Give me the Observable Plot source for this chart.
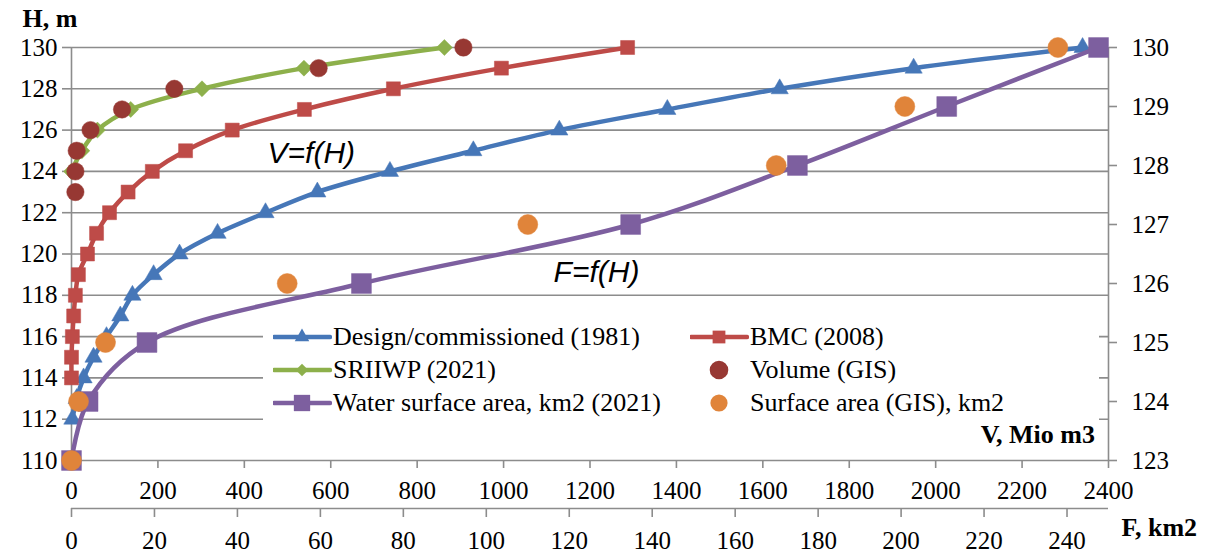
<!DOCTYPE html>
<html>
<head>
<meta charset="utf-8">
<script src="https://cdn.jsdelivr.net/npm/d3@7"></script>
<script src="https://cdn.jsdelivr.net/npm/@observablehq/plot@0.6"></script>
<style>
  body { margin: 0; background: #fff; }
  #wrap { position: relative; width: 1206px; height: 553px; overflow: hidden; background: #fff; }
  #legend { position: absolute; left: 263px; top: 318px; width: 836px; height: 134px; background: #fff;
            font-family: "Liberation Serif", "Times New Roman", serif; font-size: 26px; color: #000; }
  .item { position: absolute; display: flex; align-items: center; height: 30px; white-space: nowrap; }
  .item svg { display: block; }
  #vtitle { position: absolute; right: 4px; top: 104px; font-weight: bold; line-height: 26px; }
</style>
</head>
<body>
<div id="wrap"><div id="legend"></div></div>
<script>
// ---- Primary axes: V (Mio m3) vs H (m) ----
const designH = [112,113,114,115,116,117,118,119,120,121,122,123,124,125,126,127,128,129,130];
const designV = [2,12,28,51,81,113,141,190,250,338,449,569,737,930,1129,1379,1639,1949,2340];

const bmcH = [114,115,116,117,118,119,120,121,122,123,124,125,126,127,128,129,130];
const bmcV = [0,0,2,5,9,16,37,58,88,131,187,264,372,539,745,995,1287];

const sriiwpH = [124,125,126,127,128,129,130];
const sriiwpV = [0,24,60,137,302,538,863];

const gisVolH = [123,124,125,126,127,128,129,130];
const gisVolV = [9,9,12,44,117,238,572,907];

// ---- Secondary axes: F (km2) vs H (right axis, m) ----
const waterH = [123,124,125,126,127,128,129,130];
const waterF = [0,4,18.2,69.9,134.8,175,211,247.6];

const gisAreaH = [123,124,125,126,127,128,129,130];
const gisAreaF = [0,1.7,8.2,52,110,169.9,200.9,237.8];

// ---- tick labels ----
const hTicks = [110,112,114,116,118,120,122,124,126,128,130];
const rTicks = [123,124,125,126,127,128,129,130];
const vTicks = [0,200,400,600,800,1000,1200,1400,1600,1800,2000,2200,2400];
const fTicks = [0,20,40,60,80,100,120,140,160,180,200,220,240];

// axis ranges used to relate secondary scales to primary ones
const vMax = 2400, fMax = 250;
const hMin = 110, hMax = 130, rMin = 123, rMax = 130;
const fToV = f => f * vMax / fMax;
const vToF = v => v * fMax / vMax;
const rToH = r => hMin + (r - rMin) * (hMax - hMin) / (rMax - rMin);
const hToR = h => rMin + (h - hMin) * (rMax - rMin) / (hMax - hMin);

const annotations = [
  {text: "V=f(H)", v: 555, h: 124.85},
  {text: "F=f(H)", v: 1215, h: 119.1}
];

const series = [
  {name: "Design/commissioned (1981)", color: "#4677B8", symbol: "triangle", r: 6.4, lr: 5.4, line: true,
   data: designH.map((h, i) => ({x: designV[i], y: h})), col: 0, row: 0},
  {name: "BMC (2008)", color: "#BE4B48", symbol: "square", r: 7.9, lr: 7.2, line: true,
   data: bmcH.map((h, i) => ({x: bmcV[i], y: h})), col: 1, row: 0},
  {name: "SRIIWP (2021)", color: "#8DB04B", symbol: "diamond2", r: 7.2, lr: 5.6, line: true,
   data: sriiwpH.map((h, i) => ({x: sriiwpV[i], y: h})), col: 0, row: 1},
  {name: "Volume (GIS)", color: "#973833", symbol: "circle", r: 8.7, lr: 9.3, line: false,
   data: gisVolH.map((h, i) => ({x: gisVolV[i], y: h})), col: 1, row: 1},
  {name: "Water surface area, km2 (2021)", color: "#7D5F9F", symbol: "square", r: 11.2, lr: 9.2, line: true,
   data: waterH.map((h, i) => ({x: fToV(waterF[i]), y: rToH(h)})), col: 0, row: 2},
  {name: "Surface area (GIS), km2", color: "#E0843A", symbol: "circle", r: 10, lr: 8.6, line: false,
   data: gisAreaH.map((h, i) => ({x: fToV(gisAreaF[i]), y: rToH(h)})), col: 1, row: 2}
];

const gray = "#8c8c8c";
const serif = "Liberation Serif";
const axisFont = {fontFamily: serif, fontSize: 25, fill: "#000", stroke: gray, strokeWidth: 1.6, label: null};
const seriesMarks = series.flatMap(s => [
  s.line ? Plot.line(s.data, {x: "x", y: "y", stroke: s.color, strokeWidth: 4.5, curve: "catmull-rom"}) : null,
  Plot.dot(s.data, {x: "x", y: "y", fill: s.color, stroke: s.color, strokeWidth: 0.5, symbol: () => s.symbol, r: s.r})
].filter(Boolean));

const chart = Plot.plot({
  width: 1206,
  height: 553,
  marginLeft: 71,
  marginRight: 98,
  marginTop: 47,
  marginBottom: 93,
  x: {domain: [0, vMax], label: null},
  y: {domain: [hMin, hMax], label: null},
  symbol: {type: "identity"},
  style: {fontFamily: serif, fontSize: "25px", color: "#000", background: "#fff"},
  marks: [
    Plot.gridY(hTicks, {stroke: gray, strokeOpacity: 1, strokeWidth: 1.6}),
    Plot.ruleX([0, vMax], {stroke: gray, strokeWidth: 1.6}),
    Plot.axisY(hTicks, {...axisFont, anchor: "left", tickSize: 9, tickPadding: 5, tickFormat: d => String(d)}),
    Plot.axisY(rTicks.map(rToH), {...axisFont, anchor: "right", tickSize: 8, tickPadding: 15, tickFormat: d => String(Math.round(hToR(d)))}),
    Plot.axisX(vTicks, {...axisFont, anchor: "bottom", tickSize: 8, tickPadding: 13, tickFormat: d => String(d)}),
    Plot.ruleY([hMin], {dy: 48, stroke: gray, strokeWidth: 1.6}),
    Plot.axisX(fTicks.map(fToV), {...axisFont, anchor: "bottom", dy: 48, tickSize: 9, tickPadding: 14, tickFormat: d => String(Math.round(vToF(d)))}),
    ...seriesMarks,
    Plot.text(annotations, {x: "v", y: "h", text: "text", fontFamily: "Liberation Sans", fontStyle: "italic", fontSize: 30, fill: "#000"}),
    Plot.text(["H, m"], {frameAnchor: "top-left", textAnchor: "start", lineAnchor: "middle", dx: -49, dy: -29, fontFamily: serif, fontWeight: "bold", fontSize: 26}),
    Plot.text(["F, km2"], {frameAnchor: "bottom-right", textAnchor: "start", lineAnchor: "middle", dx: 13, dy: 67, fontFamily: serif, fontWeight: "bold", fontSize: 26})
  ]
});
document.getElementById("wrap").prepend(chart);

// ---- legend (drawn over the plot area like the original) ----
const legend = document.getElementById("legend");
const colLeft = [10, 427];
const rowCenter = [19, 52, 85];
for (const s of series) {
  const item = document.createElement("div");
  item.className = "item";
  item.style.left = colLeft[s.col] + "px";
  item.style.top = (rowCenter[s.row] - 15) + "px";
  const svg = d3.create("svg").attr("width", 59).attr("height", 30);
  if (s.line) svg.append("line").attr("x1", 1).attr("x2", 57).attr("y1", 15).attr("y2", 15)
    .attr("stroke", s.color).attr("stroke-width", 4.5).attr("stroke-linecap", "round");
  const symMap = {triangle: d3.symbolTriangle, square: d3.symbolSquare, diamond2: d3.symbolDiamond2, circle: d3.symbolCircle};
  svg.append("path").attr("transform", "translate(29,15)")
    .attr("d", d3.symbol(symMap[s.symbol], s.lr * s.lr * Math.PI)())
    .attr("fill", s.color);
  item.appendChild(svg.node());
  const span = document.createElement("span");
  span.textContent = s.name;
  span.style.marginLeft = "1px";
  item.appendChild(span);
  legend.appendChild(item);
}
const vt = document.createElement("div");
vt.id = "vtitle";
vt.textContent = "V, Mio m3";
legend.appendChild(vt);
</script>
</body>
</html>
